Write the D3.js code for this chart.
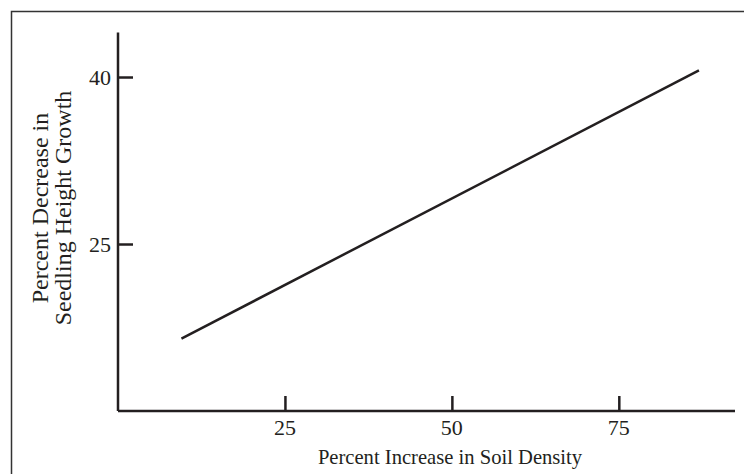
<!DOCTYPE html>
<html lang="en">
  <head>
    <meta charset="utf-8">
    <title>Soil density vs seedling growth</title>
    <script src="https://cdnjs.cloudflare.com/ajax/libs/d3/7.8.5/d3.min.js"></script>
    <style type="text/css">
      html, body { margin: 0; padding: 0; background: #fff; }
      svg text { font-family: "Liberation Serif", "Times New Roman", serif; fill: #231f20; }
    </style>
  </head>
  <body>
    <script type="text/javascript">

    // data
    var soilDensity = [9.5, 87];          // percent increase in soil density
    var heightDecrease = [16.5, 40.6];    // percent decrease in seedling height growth
    var xTicks = [25, 50, 75];
    var yTicks = [25, 40];

    var w = 744;
    var h = 474;
    var ink = "#231f20";

    var svg = d3.select("body")
                .append("svg")
                .attr("width", w)
                .attr("height", h);

    // frame (only top and left edges show in the crop)
    svg.append("path")
       .attr("d", "M11.5," + h + "V11.5H" + w)
       .attr("fill", "none")
       .attr("stroke", "#333")
       .attr("stroke-width", 1.5);

    var x = d3.scaleLinear().domain([0, 92.4]).range([118, 735]);
    var y = d3.scaleLinear().domain([10, 44]).range([411, 411 - 34 * 11.133]);

    // axes, ticks point inward
    var xAxis = svg.append("g")
       .attr("transform", "translate(0," + y(10) + ")")
       .call(d3.axisTop(x).tickValues(xTicks).tickSize(15).tickFormat(""));
    var yAxis = svg.append("g")
       .attr("transform", "translate(" + x(0) + ",0)")
       .call(d3.axisRight(y).tickValues(yTicks).tickSize(15).tickFormat(""));

    [xAxis, yAxis].forEach(function(g) {
      g.selectAll("path.domain").attr("stroke", ink).attr("stroke-width", 2.5);
      g.selectAll(".tick line").attr("stroke", ink).attr("stroke-width", 2.5);
    });
    xAxis.select("path.domain").attr("d", "M" + x(0) + ",0H" + x(92.4));
    yAxis.select("path.domain").attr("d", "M0," + y(10) + "V" + y(44));

    // tick labels
    svg.selectAll("text.xlab")
       .data(xTicks)
       .enter()
       .append("text")
       .attr("class", "xlab")
       .attr("x", function(d) { return x(d); })
       .attr("y", 435)
       .attr("text-anchor", "middle")
       .attr("font-size", "22px")
       .text(function(d) { return d; });

    svg.selectAll("text.ylab")
       .data(yTicks)
       .enter()
       .append("text")
       .attr("class", "ylab")
       .attr("x", x(0) - 7)
       .attr("y", function(d) { return y(d) + 7.5; })
       .attr("text-anchor", "end")
       .attr("font-size", "22px")
       .text(function(d) { return d; });

    // axis titles
    svg.append("text")
       .attr("x", 450)
       .attr("y", 464)
       .attr("text-anchor", "middle")
       .attr("font-size", "20.6px")
       .text("Percent Increase in Soil Density");

    var yt = svg.append("text")
       .attr("transform", "translate(48,208) rotate(-90)")
       .attr("text-anchor", "middle")
       .attr("font-size", "24px");
    yt.append("tspan").attr("x", 0).attr("y", 0).text("Percent Decrease in");
    yt.append("tspan").attr("x", 0).attr("y", 23).text("Seedling Height Growth");

    // the line
    var line = d3.line()
       .x(function(d) { return x(d[0]); })
       .y(function(d) { return y(d[1]); });

    svg.append("path")
       .datum(d3.zip(soilDensity, heightDecrease))
       .attr("d", line)
       .attr("fill", "none")
       .attr("stroke", ink)
       .attr("stroke-width", 2.5);

    </script>
  </body>
</html>
